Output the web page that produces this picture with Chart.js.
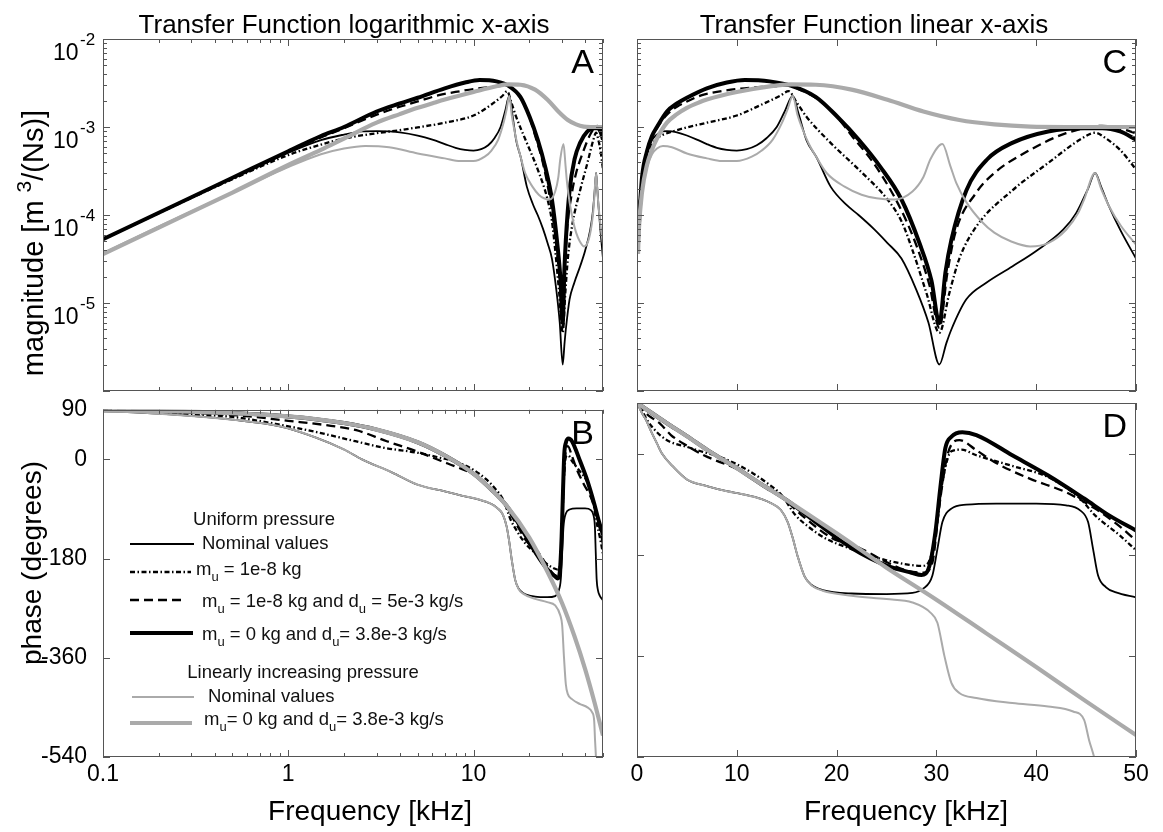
<!DOCTYPE html>
<html><head><meta charset="utf-8">
<script src="https://cdn.jsdelivr.net/npm/chart.js@4.4.0/dist/chart.umd.min.js"></script>
<style>
html,body{margin:0;padding:0;background:#fff;}
#wrap{position:relative;width:1163px;height:832px;overflow:hidden;background:#fff;}
#wrap canvas{position:absolute;}
</style></head><body>
<div id="wrap">
<canvas id="cA" width="620" height="397" style="left:0px;top:0px"></canvas>
<canvas id="cC" width="543" height="397" style="left:620px;top:0px"></canvas>
<canvas id="cB" width="620" height="452" style="left:0px;top:380px"></canvas>
<canvas id="cD" width="543" height="452" style="left:620px;top:380px"></canvas>
</div>
<script>
// ---------------- texts ----------------
const titleLog = 'Transfer Function logarithmic x-axis';
const titleLin = 'Transfer Function linear x-axis';
const xAxisLabel = 'Frequency [kHz]';
const phaseLabel = 'phase (degrees)';
const legendHeader1 = 'Uniform pressure';
const legendHeader2 = 'Linearly increasing pressure';

// ---------------- tick labels ----------------
const logFreqMajor = [0.1, 1, 10];
const linFreqTicks = [0, 10, 20, 30, 40, 50];
const phaseTicks = [-540, -360, -180, 0, 90];
const magLabelExp = [-2, -3, -4, -5];

// ---------------- magnitude data [m^3/(Ns)] vs frequency [kHz] ----------------
// Uniform pressure, nominal values (thin black)
const nomU_magF = [0.1,0.2,0.5,1,1.5,2,2.5,3,3.5,4,5,6,7,8,9,10,11,12,13,14,14.8,15.6,16.2,17,18,19.4,21,22.2,23.7,25.1,26.5,28,29.2,30.3,31,31.5,33,35,37.6,40,42.7,44,45.2,45.9,46.5,47.3,48.5,50];
const nomU_mag  = [5.3e-5,1.06e-4,2.6e-4,5.1e-4,7.1e-4,8.2e-4,8.9e-4,9.0e-4,8.9e-4,8.7e-4,8.0e-4,7.2e-4,6.4e-4,5.8e-4,5.5e-4,5.4e-4,5.6e-4,6.2e-4,7.5e-4,1.0e-3,1.5e-3,2.25e-3,1.4e-3,7e-4,4.5e-4,2.1e-4,1.3e-4,1.0e-4,7e-5,4.8e-5,3.2e-5,1.4e-5,6e-6,2e-6,3.5e-6,5e-6,1.1e-5,1.7e-5,2.6e-5,3.9e-5,6.8e-5,1.05e-4,2e-4,3e-4,2.1e-4,1.25e-4,6.5e-5,3.2e-5];
// m_u = 1e-8 kg (dash-dot)
const mu8_magF = [0.1,0.2,0.5,1,1.5,2,3,4,5,7,10,12.5,14.3,15.2,16,17,19.4,22.2,25.1,26.5,27.6,29,30.3,31.3,32.3,34,37.6,41.2,44.4,45.9,47,48.4,50];
const mu8_mag  = [5.3e-5,1.05e-4,2.55e-4,4.8e-4,6.3e-4,7.4e-4,8.5e-4,9.2e-4,9.9e-4,1.12e-3,1.35e-3,1.8e-3,2.25e-3,2.55e-3,1.9e-3,1.3e-3,6.6e-4,3.3e-4,1.5e-4,8.5e-5,4e-5,1.3e-5,4.6e-6,1.3e-5,3.2e-5,7.4e-5,1.9e-4,3.9e-4,7.2e-4,8.6e-4,7.4e-4,5.5e-4,3.3e-4];
// m_u = 1e-8 kg and d_u = 5e-3 kg/s (dashed)
const mud_magF = [0.1,0.5,1,1.5,2,3,4,5,6.5,8,10,12.5,15.2,16.5,17.9,19.7,21.5,23.7,25.8,27,28,29.3,30.3,31.1,31.9,34,35.8,39.4,43,46.6,48.4,50];
const mud_mag  = [5.3e-5,2.65e-4,5.2e-4,7.6e-4,9.7e-4,1.38e-3,1.7e-3,1.95e-3,2.3e-3,2.5e-3,2.7e-3,2.85e-3,2.95e-3,2.6e-3,2.15e-3,1.45e-3,8e-4,3.9e-4,1.6e-4,8.5e-5,4.5e-5,1.6e-5,5.2e-6,2.2e-5,6.3e-5,1.8e-4,3e-4,5.5e-4,8.5e-4,1.03e-3,9.6e-4,8.5e-4];
// m_u = 0 kg and d_u = 3.8e-3 kg/s (thick black)
const thick_magF = [0.1,0.5,1,1.5,2,3,4,5,7,9,10.8,13.3,15.4,17.9,20.1,22.2,24.4,26.5,28.3,29.5,30.3,30.9,31.5,33,35.1,37.6,41.2,44.8,46.6,48.4,50];
const thick_mag  = [5.3e-5,2.65e-4,5.3e-4,7.9e-4,1.0e-3,1.5e-3,1.85e-3,2.15e-3,2.75e-3,3.2e-3,3.42e-3,3.3e-3,2.95e-3,2.2e-3,1.3e-3,7.2e-4,3.5e-4,1.5e-4,4.8e-5,1.8e-5,5.9e-6,2.2e-5,5.2e-5,1.9e-4,4.3e-4,6.6e-4,8.9e-4,9.7e-4,9.7e-4,8.9e-4,7.2e-4];
// Linearly increasing pressure, nominal values (thin gray)
const grayNom_magF = [0.1,0.2,0.5,1,1.5,2,2.6,3.5,5,7,8.5,10,11.5,12.5,13.6,14.5,15.1,15.6,16.1,16.5,17.2,17.9,19,20.8,22.5,24,25.8,27.6,28.7,29.4,30.6,31.4,32,33,34.5,35.8,37.5,39.4,41.2,43,44.2,44.8,45.9,46.5,47.3,48.5,50];
const grayNom_mag  = [3.7e-5,7.4e-5,1.8e-4,3.5e-4,4.9e-4,5.7e-4,6.1e-4,5.9e-4,5.0e-4,4.4e-4,4.1e-4,4.1e-4,4.6e-4,5.4e-4,7.2e-4,1.1e-3,1.6e-3,2.25e-3,1.35e-3,1.0e-3,6.5e-4,4.7e-4,3e-4,2.1e-4,1.7e-4,1.55e-4,1.5e-4,1.85e-4,2.7e-4,4.3e-4,6.4e-4,3.6e-4,2.3e-4,1.4e-4,8.5e-5,6.3e-5,5e-5,4.4e-5,4.8e-5,6.8e-5,1.05e-4,1.5e-4,3e-4,2e-4,1.26e-4,7.5e-5,4.6e-5];
// Linearly increasing pressure, m_u = 0 kg and d_u = 3.8e-3 kg/s (thick gray)
const grayThick_magF = [0.1,0.2,0.5,1,1.5,2,3,4,5,6.2,7,10,13.3,15.4,17.9,21.5,25.1,28.7,32.3,35.8,39.4,43,46,50];
const grayThick_mag  = [3.6e-5,7.2e-5,1.8e-4,3.7e-4,5.5e-4,7.4e-4,1.12e-3,1.4e-3,1.65e-3,1.9e-3,2.05e-3,2.5e-3,2.9e-3,3.05e-3,3.02e-3,2.66e-3,2.04e-3,1.5e-3,1.2e-3,1.07e-3,1.01e-3,1.0e-3,1.0e-3,1.0e-3];

// ---------------- phase data [degrees] vs frequency [kHz] ----------------
const nomU_phF = [0.1,0.2,0.5,0.9,1.4,2,2.5,3.6,5,7,9,10.5,12.5,13.4,14.4,15.1,15.6,16.1,16.8,17.5,18.6,21.5,25,27.6,28.7,29.6,30.1,30.6,31.5,33,36,40,43,44.4,45.2,45.7,46.2,47,48,50];
const nomU_ph  = [88,83,72,60,40,18,0,-23,-46,-58,-67,-72,-81,-88,-100,-122,-150,-183,-219,-234,-243,-249,-250,-248,-240,-217,-170,-122,-98,-91,-89,-89,-92,-101,-122,-170,-217,-238,-247,-256];
const mu8_phF = [0.1,0.3,0.5,0.87,1.4,2.3,3.3,5,6.6,8,10,11.6,13,14.5,15.8,17.3,19,21.5,25,27.3,28.5,29.2,29.9,30.6,31.5,32.5,34,37.6,41.2,44.4,45.9,48.4,50];
const mu8_ph  = [89,82,77,64,50,33,21,12,3,-4,-19,-35,-52,-74,-108,-132,-152,-170,-190,-198,-200,-194,-146,-51,4,7,-3,-22,-42,-80,-110,-146,-172];
const mud_phF = [0.1,0.53,1,1.7,2.33,3.4,5,6.7,8,10,12.3,13.4,14.5,16.8,19.5,22.3,25.1,27.2,28.7,29.6,30.3,31.2,32.3,34,35.8,39.4,43,45.9,48.4,50];
const mud_ph  = [89.5,80,70,61,53,33,14,-3,-13,-27,-52,-66,-78,-114,-150,-168,-194,-209,-212,-194,-92,3,24,6,-15,-45,-69,-98,-130,-155];
const thick_phF = [0.1,0.3,1,2,3,5,7,10,12.5,15,17.9,21.5,25.1,27.5,28.5,29.3,29.9,30.4,30.9,31.5,32.6,34,37.6,41.2,44.8,47.3,50];
const thick_ph  = [89,86.5,78,66,54,31,7,-26,-55,-83,-122,-168,-200,-212,-216,-200,-140,-60,10,30,38,33,-3,-39,-80,-110,-137];
const grayNom_phF = [0.1,0.2,0.5,0.9,1.4,2,2.5,3.6,5,7,9,10.5,12.5,13.4,14.4,15.1,15.6,16.1,16.8,17.5,18.6,21.5,25,27.6,29.4,30.1,30.8,31.5,32.3,34,37.6,41.2,43.7,44.8,45.3,45.8,46.3];
const grayNom_ph  = [88,83,72,60,40,18,0,-23,-46,-58,-67,-72,-81,-88,-100,-122,-150,-183,-219,-235,-244,-253,-259,-265,-283,-301,-360,-408,-426,-435,-444,-450,-459,-474,-510,-540,-580];
const grayThick_phF = [0.1,0.3,1,2,3,5,7,10,12.5,15,20,25,30,35,40,45,50];
const grayThick_ph  = [89,86.5,78,66,54,31,7,-26,-55,-83,-142,-203,-260,-320,-380,-441,-501];

// ---------------- styles ----------------
const FONT = "'Liberation Sans', Arial, Helvetica, sans-serif";
Chart.defaults.font.family = FONT;
const STY = {
  nomU:      {borderColor:'#000000', borderWidth:1.8, borderDash:[],              order:5},
  mu8:       {borderColor:'#000000', borderWidth:2.3, borderDash:[5,2.5,1.5,2.5], order:4},
  mud:       {borderColor:'#000000', borderWidth:2.3, borderDash:[9,5],           order:3},
  thick:     {borderColor:'#000000', borderWidth:4,   borderDash:[],              order:2},
  grayNom:   {borderColor:'#aaaaaa', borderWidth:2,   borderDash:[],              order:1},
  grayThick: {borderColor:'#aaaaaa', borderWidth:4.2, borderDash:[],              order:0}
};

function pts(F, V) { return F.map((f, i) => ({x: f, y: V[i]})); }
function ds(F, V, key) {
  return Object.assign({label: key, data: pts(F, V), pointRadius: 0, pointHoverRadius: 0,
    fill: false, cubicInterpolationMode: 'monotone', clip: 0,
    borderCapStyle: 'butt', borderJoinStyle: 'round'}, STY[key]);
}
function magSets() {
  return [ds(nomU_magF, nomU_mag, 'nomU'), ds(mu8_magF, mu8_mag, 'mu8'), ds(mud_magF, mud_mag, 'mud'),
          ds(thick_magF, thick_mag, 'thick'), ds(grayNom_magF, grayNom_mag, 'grayNom'),
          ds(grayThick_magF, grayThick_mag, 'grayThick')];
}
function phaseSets() {
  return [ds(nomU_phF, nomU_ph, 'nomU'), ds(mu8_phF, mu8_ph, 'mu8'), ds(mud_phF, mud_ph, 'mud'),
          ds(thick_phF, thick_ph, 'thick'), ds(grayNom_phF, grayNom_ph, 'grayNom'),
          ds(grayThick_phF, grayThick_ph, 'grayThick')];
}

// tick value lists
const logFreqTickVals = [];
for (const d of [0.1, 1, 10]) for (let k = 1; k <= 9; k++) { const v = +(k * d).toPrecision(6); if (v <= 50) logFreqTickVals.push(v); }
const magTickVals = [];
for (let e = -6; e <= -3; e++) for (let k = 1; k <= 9; k++) magTickVals.push(+(k * Math.pow(10, e)).toPrecision(6));
magTickVals.push(1e-2);

function isDecade(v) { const l = Math.log10(v); return Math.abs(l - Math.round(l)) < 1e-6; }

function scale(type, min, max, tickVals, isX, size, showLabels, cb) {
  return {
    type, min, max, display: true,
    afterBuildTicks: s => { s.ticks = tickVals.map(v => ({value: v})); },
    afterFit: s => { if (isX) s.height = size; else s.width = size; },
    grid: {display: false, drawTicks: false},
    border: {display: false},
    ticks: {display: showLabels, autoSkip: false, maxRotation: 0, minRotation: 0,
      padding: isX ? 4 : 16, color: '#000', font: {size: 23, family: FONT},
      callback: cb || (v => String(v))}
  };
}

// frame, inward ticks and panel letter
const frame = {
  id: 'frame',
  afterDatasetsDraw(chart, args, o) {
    const ctx = chart.ctx, a = chart.chartArea, xs = chart.scales.x, ys = chart.scales.y;
    ctx.save();
    ctx.strokeStyle = '#555'; ctx.lineWidth = 1; ctx.setLineDash([]);
    ctx.beginPath();
    xs.ticks.forEach(t => {
      const L = (o.xLog ? isDecade(t.value) : true) ? 7 : 4;
      const px = Math.round(xs.getPixelForValue(t.value)) + 0.5;
      ctx.moveTo(px, a.bottom); ctx.lineTo(px, a.bottom - L);
      ctx.moveTo(px, a.top); ctx.lineTo(px, a.top + L);
    });
    ys.ticks.forEach(t => {
      const L = (o.yLog ? isDecade(t.value) : true) ? 7 : 4;
      const py = Math.round(ys.getPixelForValue(t.value)) + 0.5;
      ctx.moveTo(a.left, py); ctx.lineTo(a.left + L, py);
      ctx.moveTo(a.right, py); ctx.lineTo(a.right - L, py);
    });
    ctx.stroke();
    ctx.strokeRect(Math.round(a.left) + 0.5, Math.round(a.top) + 0.5, Math.round(a.width) - 1, Math.round(a.height) - 1);
    ctx.fillStyle = '#000'; ctx.font = '34px ' + FONT; ctx.textAlign = 'right'; ctx.textBaseline = 'middle';
    ctx.fillText(o.letter, a.right - 9, a.top + 25);
    ctx.restore();
  }
};

function richWidth(ctx, parts) {
  let w = 0; parts.forEach(p => { ctx.font = p.size + 'px ' + FONT; w += ctx.measureText(p.t).width; }); return w;
}
function drawRich(ctx, parts, x, y, align) {
  let cx = align === 'center' ? x - richWidth(ctx, parts) / 2 : x;
  ctx.textAlign = 'left';
  parts.forEach(p => { ctx.font = p.size + 'px ' + FONT; ctx.fillText(p.t, cx, y + (p.dy || 0)); cx += ctx.measureText(p.t).width; });
}
function drawRotated(ctx, parts, x, y) {
  ctx.save(); ctx.translate(x, y); ctx.rotate(-Math.PI / 2); ctx.textBaseline = 'middle';
  drawRich(ctx, parts, 0, 0, 'center'); ctx.restore();
}
const LS = 18.5, SS = 13;
const sub = () => ({t: 'u', size: SS, dy: 7});

function baseOptions(pad) {
  return {
    responsive: false, animation: false, devicePixelRatio: 1, events: [],
    layout: {padding: pad, autoPadding: false}
  };
}
const pluginOpts = (letter, xLog, yLog) => ({legend: {display: false}, tooltip: {enabled: false}, title: {display: false}, frame: {letter, xLog, yLog}});

// ---------------- Panel A ----------------
new Chart(document.getElementById('cA'), {
  type: 'line',
  data: {datasets: magSets()},
  options: Object.assign(baseOptions({left: 0, top: 39, right: 17, bottom: 0}), {
    scales: {
      x: scale('logarithmic', 0.1, 50, logFreqTickVals, true, 6, false),
      y: scale('logarithmic', 1e-6, 1e-2, magTickVals, false, 103, false)
    },
    plugins: pluginOpts('A', true, true)
  }),
  plugins: [frame, {
    id: 'decoA',
    afterDraw(chart) {
      const ctx = chart.ctx, ys = chart.scales.y;
      ctx.save(); ctx.fillStyle = '#000';
      ctx.font = '26px ' + FONT; ctx.textAlign = 'center'; ctx.textBaseline = 'alphabetic';
      ctx.fillText(titleLog, 344, 33);
      magLabelExp.forEach(e => {
        const py = ys.getPixelForValue(Math.pow(10, e));
        ctx.textAlign = 'left';
        ctx.font = '23px ' + FONT; ctx.fillText('10', 53, py + 21);
        ctx.font = '17px ' + FONT; ctx.fillText(String(e), 80, py + 6);
      });
      drawRotated(ctx, [{t: 'magnitude [m ', size: 29}, {t: '3', size: 21, dy: -10}, {t: '/(Ns)]', size: 29}], 35, 243);
      ctx.restore();
    }
  }]
});

// ---------------- Panel C ----------------
new Chart(document.getElementById('cC'), {
  type: 'line',
  data: {datasets: magSets()},
  options: Object.assign(baseOptions({left: 0, top: 39, right: 27, bottom: 0}), {
    scales: {
      x: scale('linear', 0, 50, linFreqTicks, true, 6, false),
      y: scale('logarithmic', 1e-6, 1e-2, magTickVals, false, 17, false)
    },
    plugins: pluginOpts('C', false, true)
  }),
  plugins: [frame, {
    id: 'decoC',
    afterDraw(chart) {
      const ctx = chart.ctx;
      ctx.save(); ctx.fillStyle = '#000';
      ctx.font = '26px ' + FONT; ctx.textAlign = 'center'; ctx.textBaseline = 'alphabetic';
      ctx.fillText(titleLin, 254, 33);
      ctx.restore();
    }
  }]
});

// ---------------- Panel B ----------------
new Chart(document.getElementById('cB'), {
  type: 'line',
  data: {datasets: phaseSets()},
  options: Object.assign(baseOptions({left: 0, top: 23, right: 17, bottom: 0}), {
    scales: {
      x: scale('logarithmic', 0.1, 50, logFreqTickVals, true, 75, true, v => logFreqMajor.includes(v) ? String(v) : ''),
      y: scale('linear', -540, 90, phaseTicks, false, 103, true)
    },
    plugins: pluginOpts('B', true, false)
  }),
  plugins: [frame, {
    id: 'decoB',
    afterDraw(chart) {
      const ctx = chart.ctx;
      ctx.save(); ctx.fillStyle = '#000';
      drawRotated(ctx, [{t: phaseLabel, size: 28}], 33, 183);
      ctx.font = '28px ' + FONT; ctx.textAlign = 'center'; ctx.textBaseline = 'middle';
      ctx.fillText(xAxisLabel, 370, 432);
      // legend
      ctx.fillStyle = '#111'; ctx.textBaseline = 'middle';
      ctx.font = LS + 'px ' + FONT; ctx.textAlign = 'center';
      ctx.fillText(legendHeader1, 264, 140);
      ctx.fillText(legendHeader2, 303, 293);
      const rows = [
        {key: 'nomU', x0: 130, x1: 194, ly: 164, tx: 202, ty: 164, parts: [{t: 'Nominal values', size: LS}]},
        {key: 'mu8', x0: 130, x1: 191, ly: 192, tx: 196, ty: 190, parts: [{t: 'm', size: LS}, sub(), {t: ' = 1e-8 kg', size: LS}]},
        {key: 'mud', x0: 130, x1: 186, ly: 220, tx: 202, ty: 222, parts: [{t: 'm', size: LS}, sub(), {t: ' = 1e-8 kg and d', size: LS}, sub(), {t: ' = 5e-3 kg/s', size: LS}]},
        {key: 'thick', x0: 130, x1: 193, ly: 253, tx: 202, ty: 255, parts: [{t: 'm', size: LS}, sub(), {t: ' = 0 kg and d', size: LS}, sub(), {t: '= 3.8e-3 kg/s', size: LS}]},
        {key: 'grayNom', x0: 132, x1: 194, ly: 317, tx: 208, ty: 317, parts: [{t: 'Nominal values', size: LS}]},
        {key: 'grayThick', x0: 130, x1: 192, ly: 343, tx: 204, ty: 340, parts: [{t: 'm', size: LS}, sub(), {t: '= 0 kg and d', size: LS}, sub(), {t: '= 3.8e-3 kg/s', size: LS}]}
      ];
      rows.forEach(r => {
        const s = STY[r.key];
        ctx.save();
        ctx.strokeStyle = s.borderColor; ctx.lineWidth = s.borderWidth; ctx.setLineDash(s.borderDash); ctx.lineCap = 'butt';
        ctx.beginPath(); ctx.moveTo(r.x0, r.ly); ctx.lineTo(r.x1, r.ly); ctx.stroke();
        ctx.restore();
        drawRich(ctx, r.parts, r.tx, r.ty, 'left');
      });
      ctx.restore();
    }
  }]
});

// ---------------- Panel D ----------------
new Chart(document.getElementById('cD'), {
  type: 'line',
  data: {datasets: phaseSets()},
  options: Object.assign(baseOptions({left: 0, top: 23, right: 27, bottom: 0}), {
    scales: {
      x: scale('linear', 0, 50, linFreqTicks, true, 75, true),
      y: scale('linear', -540, 90, phaseTicks, false, 17, false)
    },
    plugins: pluginOpts('D', false, false)
  }),
  plugins: [frame, {
    id: 'decoD',
    afterDraw(chart) {
      const ctx = chart.ctx;
      ctx.save(); ctx.fillStyle = '#000';
      ctx.font = '28px ' + FONT; ctx.textAlign = 'center'; ctx.textBaseline = 'middle';
      ctx.fillText(xAxisLabel, 286, 432);
      ctx.restore();
    }
  }]
});
</script>
</body></html>
